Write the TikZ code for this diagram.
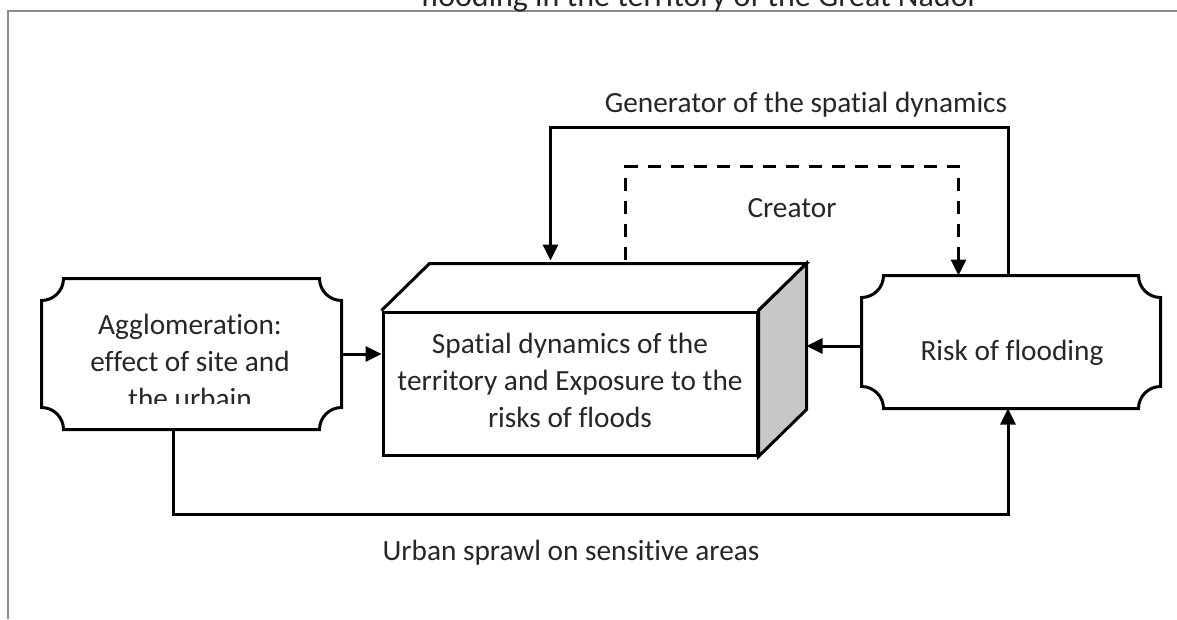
\documentclass[tikz,border=0pt]{standalone}
\usepackage{fontspec}
\setmainfont{Carlito}[Ligatures={NoCommon}]
\usetikzlibrary{arrows.meta,calc}

\tikzset{every picture/.style={line width=3pt}}
\tikzset{
  plaque/.style={inner sep=0pt, minimum width=297pt, minimum height=148pt},
  label text/.style={text=black!85, font=\fontsize{29.3}{37}\selectfont, inner sep=0pt},
  link/.style={-{Triangle[length=16pt,width=15pt]}},
  creator link/.style={link, dash pattern=on 13pt off 10pt},
  frame line/.style={draw=black!45, line width=1.8pt},
}
% outline with hollow corners round a node
\newcommand{\plaqueoutline}[2]{%
  \draw ($(#1.north west)+(#2,0)$) -- ($(#1.north east)+(-#2,0)$) arc[start angle=180,end angle=90,radius=#2]
    -- ($(#1.south east)+(0,-#2)$) arc[start angle=270,end angle=180,radius=#2]
    -- ($(#1.south west)+(#2,0)$) arc[start angle=0,end angle=-90,radius=#2]
    -- ($(#1.north west)+(0,#2)$) arc[start angle=90,end angle=0,radius=#2] -- cycle;}

\begin{document}
\begin{tikzpicture}[x=1pt,y=1pt,yscale=-1,xscale=1]
\useasboundingbox (0,0) rectangle (1177,619);
\clip (0,0) rectangle (1177,619);

%Frame
\draw[frame line] (8,619) -- (8,11) -- (1177,11);
% Text Node
\node[label text, font=\fontsize{32}{38}\selectfont, anchor=base] (title) at (700,6) {flooding in the territory of the Great Nador};

%Agglomeration box
\node[plaque] (agglo) at (191.5,354) {};
\plaqueoutline{agglo}{22}
\begin{scope}
  \clip (agglo.north west) rectangle ($(agglo.east)+(0,49)$);
  \node[label text, align=center] (aggloText) at (190,361) {Agglomeration:\\effect of site and\\the urbain};
\end{scope}

%Risk box
\node[plaque, minimum width=296pt, minimum height=130pt] (risk) at (1011,342) {};
\plaqueoutline{risk}{22}
\node[label text] (riskText) at ($(risk.center)+(1,11)$) {Risk of flooding};

%Cube
\node[draw, fill=white, minimum width=374pt, minimum height=143pt, inner sep=0pt] (cube) at (570,383.5) {};
\coordinate (backNW) at ($(cube.north west)+(48,-47)$);
\coordinate (backNE) at ($(cube.north east)+(48,-47)$);
\coordinate (backSE) at ($(cube.south east)+(48,-47)$);
\draw (cube.north west) -- (backNW) -- (backNE) -- (cube.north east);
\draw[fill=black!22] (cube.north east) -- (backNE) -- (backSE) -- (cube.south east) -- cycle;
\node[label text, align=center] (cubeText) at (570,380) {Spatial dynamics of the\\territory and Exposure to the\\risks of floods};

%Straight Lines
\draw[link] (agglo.east) -- (agglo.east -| cube.west);
\coordinate (riskOut) at ($(risk.west)+(0,4)$);
\draw[link] (riskOut) -- (riskOut -| backSE);

%Generator loop
\coordinate (genEnd) at ($(backNW)+(121,-3)$);
\draw[link] ($(risk.north)+(-3,0)$) |- ($(genEnd)+(0,-133)$) -- (genEnd);
%Creator loop
\coordinate (creatorStart) at ($(backNW)+(196,-4)$);
\coordinate (creatorEnd) at ($(risk.north west)+(97,0)$);
\draw[creator link] (creatorStart) -- ++(0,-93) -| (creatorEnd);
%Sprawl line
\coordinate (sprawlStart) at ($(agglo.south)+(-18.5,0)$);
\coordinate (sprawlEnd) at ($(risk.south)+(-3,0)$);
\draw[link] (sprawlStart) |- ($(sprawlEnd)+(0,106)$) -- (sprawlEnd);

% Text Node
\node[label text] (genLabel) at (806,105) {Generator of the spatial dynamics};
% Text Node
\node[label text] (creatorLabel) at (792,208) {Creator};
% Text Node
\node[label text] (sprawlLabel) at (571,553) {Urban sprawl on sensitive areas};

\end{tikzpicture}
\end{document}
